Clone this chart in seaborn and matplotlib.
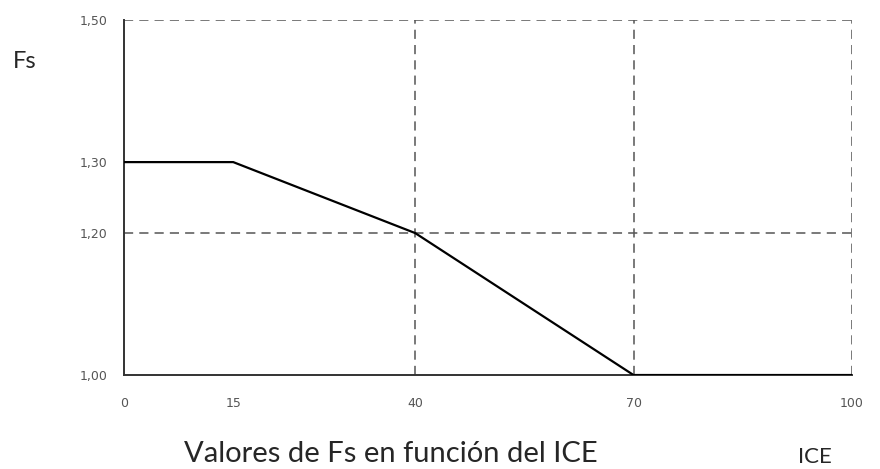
import matplotlib
matplotlib.use("Agg")
import matplotlib.pyplot as plt
import seaborn as sns
import pandas as pd

# -------------------------------
# Data
# -------------------------------
ice = [0, 15, 40, 70, 100]
fs = [1.30, 1.30, 1.20, 1.00, 1.00]
x_ticks = [0, 15, 40, 70, 100]
y_ticks = [1.00, 1.20, 1.30, 1.50]
y_tick_labels = ["1,00", "1,20", "1,30", "1,50"]
v_guides = [40, 70, 100]
h_guides = [1.20, 1.50]

df = pd.DataFrame({"ICE": ice, "Fs": fs})

sns.set_style("white")
plt.rcParams['font.family'] = ['DejaVu Sans']

fig = plt.figure(figsize=(8.8, 4.69), dpi=100)
ax = fig.add_axes([0.141, 0.2004, 0.827, 0.7566])

# dashed guides
for x in v_guides:
    ax.axvline(x, color="#555555", lw=1.1, ls=(0, (6, 4)), zorder=1)
for y in h_guides:
    ax.axhline(y, color="#555555", lw=1.1, ls=(0, (6, 4)), zorder=1)

sns.lineplot(data=df, x="ICE", y="Fs", color="black", lw=1.6, ax=ax, zorder=3)

ax.set_xlim(0, 100)
ax.set_ylim(1.00, 1.50)
ax.set_xticks(x_ticks)
ax.set_xticklabels([str(t) for t in x_ticks])
ax.set_yticks(y_ticks)
ax.set_yticklabels(y_tick_labels)
ax.set_xticks([20], minor=True)
ax.tick_params(axis="x", which="minor", direction="in", length=5, width=1, color="#333333")
ax.tick_params(axis="both", which="major", length=0, labelsize=9, labelcolor="#555555")
ax.tick_params(axis="x", which="major", pad=16)
ax.tick_params(axis="y", which="major", pad=12)

ax.spines["top"].set_visible(False)
ax.spines["right"].set_visible(False)
for s in ["left", "bottom"]:
    ax.spines[s].set_color("#333333")
    ax.spines[s].set_linewidth(1.4)

ax.set_xlabel("")
ax.set_ylabel("")

fig.text(25 / 880, 1 - 62 / 469, "Fs", fontsize=17, ha="center", va="center", family="Lato")
fig.text(815 / 880, 1 - 457 / 469, "ICE", fontsize=16, ha="center", va="center", family="Lato")
fig.text(391 / 880, 2 / 469, "Valores de Fs en función del ICE",
         fontsize=21, ha="center", va="bottom", family="Lato")

fig.savefig("out.png", dpi=100)
